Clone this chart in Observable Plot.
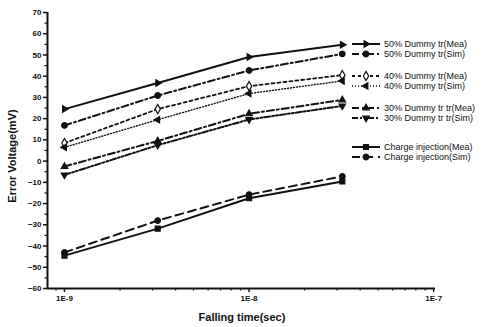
<!DOCTYPE html>
<html>
<head>
<meta charset="utf-8">
<script src="https://cdn.jsdelivr.net/npm/d3@7"></script>
<script src="https://cdn.jsdelivr.net/npm/@observablehq/plot@0.6"></script>
<style>
  html, body { margin: 0; padding: 0; background: #fff; }
  #wrap { position: relative; width: 486px; height: 327px; }
  #legend { position: absolute; left: 0; top: 0; pointer-events: none; }
</style>
</head>
<body>
<div id="wrap"></div>
<script>
// ---- data ----
const fallingTime = [1e-9, 3.2e-9, 1e-8, 3.2e-8];
const mea50 = [24.5, 36.8, 49.0, 54.8];
const sim50 = [16.8, 30.9, 42.7, 50.5];
const mea40 = [8.5, 24.5, 35.3, 40.5];
const sim40 = [6.5, 19.5, 31.8, 37.8];
const mea30 = [-2.5, 9.5, 22.3, 28.8];
const sim30 = [-6.5, 7.5, 19.6, 26.0];
const meaCI = [-44.5, -31.8, -17.5, -9.6];
const simCI = [-43.0, -28.0, -15.8, -7.2];
const seriesNames = [
  "50% Dummy tr(Mea)", "50% Dummy tr(Sim)",
  "40% Dummy tr(Mea)", "40% Dummy tr(Sim)",
  "30% Dummy tr tr(Mea)", "30% Dummy tr tr(Sim)",
  "Charge injection(Mea)", "Charge injection(Sim)"
];
const seriesValues = [mea50, sim50, mea40, sim40, mea30, sim30, meaCI, simCI];
const yTicks = [70, 60, 50, 40, 30, 20, 10, 0, -10, -20, -30, -40, -50, -60];
const xTickLabels = ["1E-9", "1E-8", "1E-7"];
const xTicks = [1e-9, 1e-8, 1e-7];

// ---- styles ----
function triangle(angleDeg) {
  return {
    draw(ctx, size) {
      const r = Math.sqrt(size) * 0.75;
      for (let i = 0; i < 3; i++) {
        const a = (angleDeg + i * 120) * Math.PI / 180;
        const x = r * Math.cos(a), y = r * Math.sin(a);
        if (i === 0) ctx.moveTo(x, y); else ctx.lineTo(x, y);
      }
      ctx.closePath();
    }
  };
}
const styles = [
  {symbol: triangle(0), dash: null, fill: "#111", width: 2},
  {symbol: "circle", dash: "7,3,2,3", fill: "#111", width: 2},
  {symbol: "diamond", dash: "3,3", fill: "#fff", width: 1.8},
  {symbol: triangle(180), dash: "1,2", fill: "#111", width: 1.4},
  {symbol: triangle(-90), dash: "7,3,2,3", fill: "#111", width: 2},
  {symbol: triangle(90), dash: "6,2,2,2,2,2", fill: "#111", width: 2},
  {symbol: "square", dash: null, fill: "#111", width: 2},
  {symbol: "circle", dash: "8,5", fill: "#111", width: 2}
];

const rows = [];
seriesNames.forEach((name, i) => {
  fallingTime.forEach((t, j) => rows.push({series: name, idx: i, t, v: seriesValues[i][j]}));
});

const W = 486, H = 327;
const xDomain = [Math.pow(10, -9.092), Math.pow(10, -6.99)];
const minorY = d3.range(-55, 70, 10);
const minorX = [];
for (let e = -10; e <= -8; e++) for (let k = 2; k <= 9; k++) {
  const v = k * Math.pow(10, e);
  if (v > xDomain[0] && v < xDomain[1]) minorX.push(v);
}
const xLabelOf = d => {
  const k = xTicks.findIndex(t => Math.abs(Math.log10(t) - Math.log10(d)) < 1e-6);
  return k >= 0 ? xTickLabels[k] : "";
};

const marks = [];
styles.forEach((s, i) => {
  const d = rows.filter(r => r.idx === i);
  marks.push(Plot.line(d, {x: "t", y: "v", stroke: "#111", strokeWidth: s.width,
    strokeDasharray: s.dash || undefined}));
  marks.push(Plot.dot(d, {x: "t", y: "v", symbol: () => s.symbol, r: 2.8,
    fill: s.fill, stroke: "#111", strokeWidth: 1.2}));
});

const chart = Plot.plot({
  width: W, height: H,
  marginLeft: 47, marginRight: 51, marginTop: 12, marginBottom: 39,
  style: {fontFamily: "'Liberation Sans', Arial, sans-serif", color: "#111", background: "#fff"},
  x: {type: "log", domain: xDomain},
  y: {domain: [-60, 70]},
  symbol: {type: "identity"},
  marks: [
    Plot.axisY({ticks: yTicks, tickSize: 4, tickPadding: 2, fontSize: 8, fontWeight: "bold",
      label: null, strokeWidth: 1.5}),
    Plot.axisY({ticks: minorY, tickSize: 2.5, tickFormat: () => "", label: null, strokeWidth: 1.2}),
    Plot.axisX({ticks: xTicks, tickSize: 4, tickPadding: 3, fontSize: 8, fontWeight: "bold",
      tickFormat: xLabelOf, label: null, strokeWidth: 1.5}),
    Plot.axisX({ticks: minorX, tickSize: 2.5, tickFormat: () => "", label: null, strokeWidth: 1.2}),
    Plot.ruleX([xDomain[0]], {strokeWidth: 2, stroke: "#111"}),
    Plot.ruleY([-60], {strokeWidth: 2, stroke: "#111"}),
    ...marks
  ]
});

const wrap = document.getElementById("wrap");
wrap.appendChild(chart);

// axis titles as real text
const svg = d3.select(chart);
svg.append("text")
  .attr("x", 242).attr("y", 321)
  .attr("text-anchor", "middle")
  .attr("font-size", 11).attr("font-weight", "bold")
  .attr("fill", "#111")
  .text("Falling time(sec)");
svg.append("text")
  .attr("transform", "translate(16,156) rotate(-90)")
  .attr("text-anchor", "middle")
  .attr("font-size", 11).attr("font-weight", "bold")
  .attr("fill", "#111")
  .text("Error Voltage(mV)");

// legend overlay
const legendY = [44, 54, 76, 86, 108, 118, 147, 157];
const lg = d3.select(wrap).append("svg")
  .attr("id", "legend").attr("width", W).attr("height", H)
  .style("font-family", "'Liberation Sans', Arial, sans-serif");
seriesNames.forEach((name, i) => {
  const s = styles[i], y = legendY[i];
  lg.append("line").attr("x1", 352).attr("x2", 380).attr("y1", y).attr("y2", y)
    .attr("stroke", "#111").attr("stroke-width", s.width)
    .attr("stroke-dasharray", s.dash || null);
  const sym = typeof s.symbol === "string"
    ? (s.symbol === "circle" ? d3.symbolCircle : s.symbol === "square" ? d3.symbolSquare : d3.symbolDiamond)
    : s.symbol;
  lg.append("path").attr("d", d3.symbol(sym, 2.8 * 2.8 * Math.PI)())
    .attr("transform", `translate(366,${y})`)
    .attr("fill", s.fill).attr("stroke", "#111").attr("stroke-width", 1.2);
  lg.append("text").attr("x", 384).attr("y", y).attr("dy", "0.35em")
    .attr("font-size", 9).attr("fill", "#111").text(name);
});
</script>
</body>
</html>
